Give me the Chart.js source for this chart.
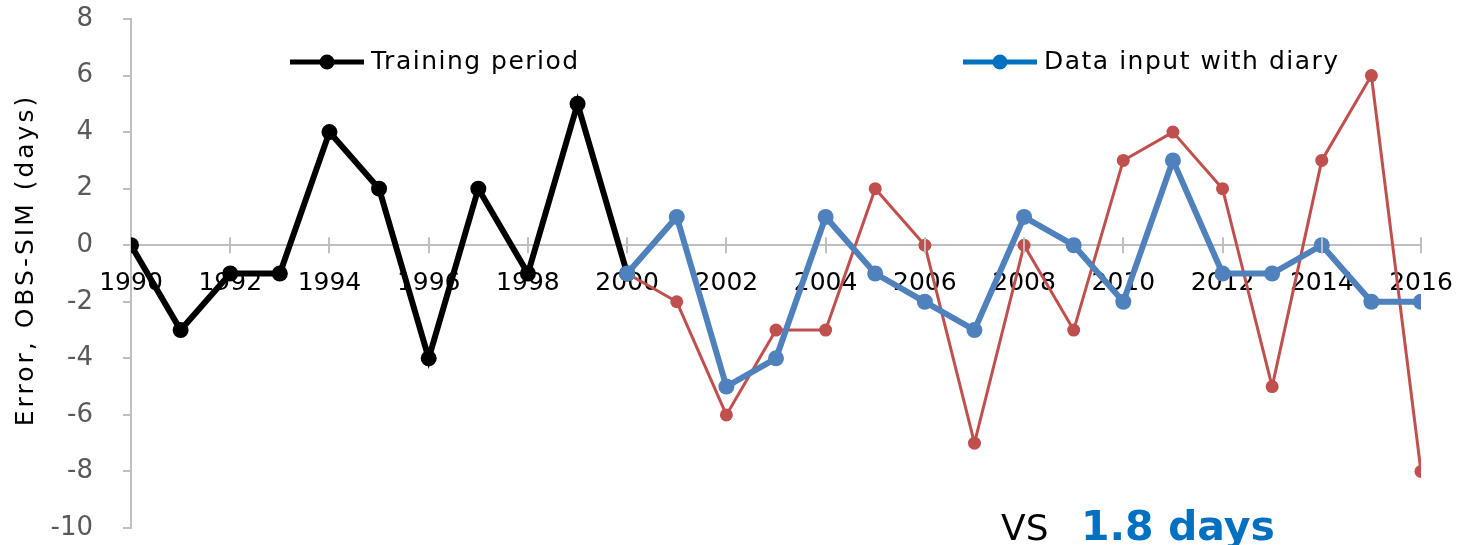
<!DOCTYPE html>
<html>
<head>
<meta charset="utf-8">
<script src="https://cdn.jsdelivr.net/npm/chart.js@4"></script>
<style>
  html, body { margin: 0; padding: 0; background: #fff; }
  #wrap { width: 1460px; height: 545px; position: relative; }
</style>
</head>
<body>
<div id="wrap"><canvas id="errChart" width="1460" height="545"></canvas></div>
<script>
// --- Data ---
const trainYears = [1990, 1991, 1992, 1993, 1994, 1995, 1996, 1997, 1998, 1999, 2000];
const trainErr   = [0, -3, -1, -1, 4, 2, -4, 2, -1, 5, -1];

const testYears  = [2000, 2001, 2002, 2003, 2004, 2005, 2006, 2007, 2008,
                    2009, 2010, 2011, 2012, 2013, 2014, 2015, 2016];
const diaryErr   = [-1, 1, -5, -4, 1, -1, -2, -3, 1, 0, -2, 3, -1, -1, 0, -2, -2];
const noDiaryErr = [-1, -2, -6, -3, -3, 2, 0, -7, 0, -3, 3, 4, 2, -5, 3, 6, -8];

const legendLabels = ['Training period', 'Data input with diary'];
const yTitle = 'Error, OBS-SIM (days)';
const noteLeft = 'VS';
const noteRight = '1.8 days';

const toPoints = (xs, ys) => xs.map((x, i) => ({ x: x, y: ys[i] }));

Chart.defaults.font.family = "'DejaVu Sans', Verdana, sans-serif";

// cross tick marks on the x axis + extra text (legend, y title, note)
const extras = {
    id: 'extras',
    afterDraw(chart) {
        const c = chart.ctx;
        const xs = chart.scales.x, ys = chart.scales.y;
        const y0 = ys.getPixelForValue(0);

        c.save();
        c.strokeStyle = '#BFBFBF';
        c.lineWidth = 2;
        xs.ticks.forEach(t => {
            if (t.value === xs.min) return;
            const px = Math.round(xs.getPixelForValue(t.value));
            c.beginPath();
            c.moveTo(px, y0 - 8);
            c.lineTo(px, y0 + 8);
            c.stroke();
        });

        // y title (Verdana-like width)
        c.save();
        c.translate(26, 260);
        c.rotate(-Math.PI / 2);
        c.fillStyle = '#000';
        c.font = "25px 'DejaVu Sans'";
        c.letterSpacing = '3px';
        c.textAlign = 'center';
        c.textBaseline = 'middle';
        c.fillText(yTitle, 0, 0);
        c.restore();

        // legend
        const items = [
            { x: 290, color: '#000000', text: legendLabels[0] },
            { x: 963, color: '#0070C0', text: legendLabels[1] }
        ];
        items.forEach(it => {
            const ly = 62;
            c.strokeStyle = it.color;
            c.lineWidth = 5;
            c.beginPath();
            c.moveTo(it.x, ly);
            c.lineTo(it.x + 74, ly);
            c.stroke();
            c.fillStyle = it.color;
            c.beginPath();
            c.arc(it.x + 37, ly, 7.5, 0, Math.PI * 2);
            c.fill();
            c.fillStyle = '#000';
            c.font = "25px 'DejaVu Sans'";
            c.letterSpacing = '1.5px';
            c.textAlign = 'left';
            c.textBaseline = 'middle';
            c.fillText(it.text, it.x + 81, ly);
        });
        c.letterSpacing = '0px';

        // note at the bottom
        c.textBaseline = 'alphabetic';
        c.textAlign = 'left';
        c.fillStyle = '#000';
        c.font = "36px 'DejaVu Sans'";
        c.fillText(noteLeft, 1001, 540);
        c.fillStyle = '#0070C0';
        c.font = "bold 41px 'DejaVu Sans'";
        c.fillText(noteRight, 1081, 540);
        c.restore();
    }
};

const ctx = document.getElementById('errChart').getContext('2d');

const errChart = new Chart(ctx, {
    type: 'line',
    data: {
        datasets: [
            {
                label: 'Data input with diary',
                data: toPoints(testYears, diaryErr),
                borderColor: '#4F81BD',
                backgroundColor: '#4F81BD',
                borderWidth: 6,
                pointRadius: 8,
                pointBorderWidth: 0,
                tension: 0,
                order: 1
            },
            {
                label: 'Without diary',
                data: toPoints(testYears, noDiaryErr),
                borderColor: '#C0504D',
                backgroundColor: '#C0504D',
                borderWidth: 3,
                pointRadius: 6.5,
                pointBorderWidth: 0,
                tension: 0,
                order: 2
            },
            {
                label: 'Training period',
                data: toPoints(trainYears, trainErr),
                borderColor: '#000000',
                backgroundColor: '#000000',
                borderWidth: 6,
                pointRadius: 8,
                pointBorderWidth: 0,
                tension: 0,
                order: 3
            }
        ]
    },
    options: {
        responsive: false,
        animation: false,
        layout: { padding: { top: 19, right: 39, bottom: 17, left: 0 } },
        plugins: {
            legend: { display: false },
            tooltip: { enabled: false }
        },
        scales: {
            x: {
                type: 'linear',
                position: { y: 0 },
                min: 1990,
                max: 2016,
                afterFit(scale) { scale.paddingLeft = 0; scale.paddingRight = 0; },
                grid: { display: false, drawTicks: false },
                border: { display: true, color: '#BFBFBF', width: 2 },
                ticks: {
                    stepSize: 2,
                    color: '#000',
                    font: { size: 25 },
                    padding: 23,
                    maxRotation: 0,
                    callback: v => String(v)
                }
            },
            y: {
                min: -10,
                max: 8,
                afterFit(scale) {
                    scale.width = 131;
                    scale.paddingTop = 0;
                    scale.paddingBottom = 0;
                },
                grid: {
                    drawOnChartArea: false,
                    drawTicks: true,
                    tickLength: 8,
                    color: '#BFBFBF',
                    lineWidth: 2
                },
                border: { display: true, color: '#BFBFBF', width: 2 },
                ticks: {
                    stepSize: 2,
                    color: '#595959',
                    font: { size: 26 },
                    padding: 30
                }
            }
        }
    },
    plugins: [extras]
});
</script>
</body>
</html>
